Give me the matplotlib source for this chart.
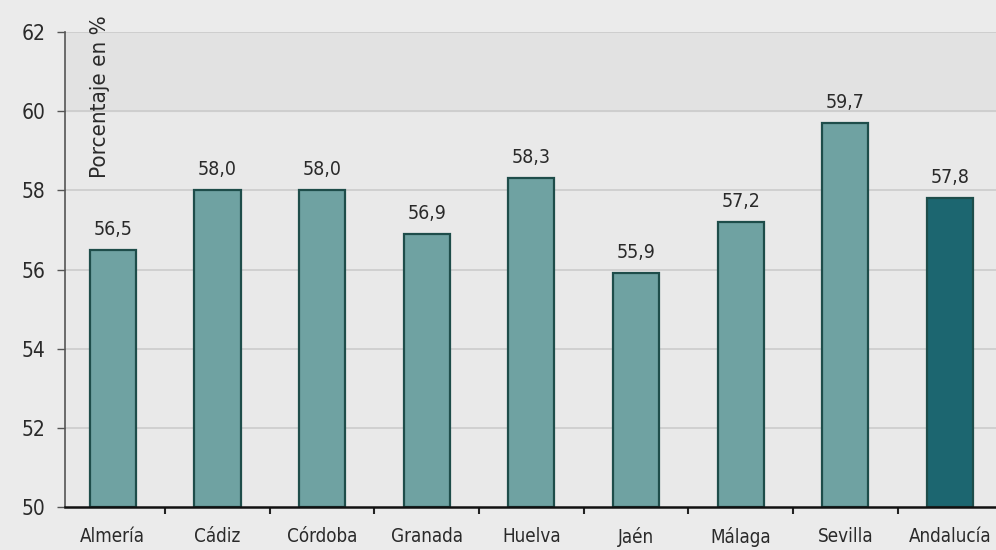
import numpy as np
import matplotlib.pyplot as plt

provincias = ["Almería", "Cádiz", "Córdoba", "Granada", "Huelva",
              "Jaén", "Málaga", "Sevilla", "Andalucía"]
porcentaje = [56.5, 58.0, 58.0, 56.9, 58.3, 55.9, 57.2, 59.7, 57.8]
etiquetas = ["56,5", "58,0", "58,0", "56,9", "58,3", "55,9", "57,2", "59,7", "57,8"]
yticks = [50, 52, 54, 56, 58, 60, 62]

plt.rcParams['font.family'] = ['DejaVu Sans']
plt.rcParams['font.stretch'] = 'condensed'

fig = plt.figure(figsize=(9.96, 5.5), dpi=100, facecolor="#ebebeb")
ax = fig.add_axes([0.065, 0.078, 0.935, 0.864])
ax.set_facecolor("#e9e9e9")

x = np.arange(len(provincias))
colors = ["#6fa2a2"] * (len(provincias) - 1) + ["#1c6670"]
ax.axhspan(60, 62, color="#e2e2e2", zorder=0)
for yv in yticks[1:]:
    ax.axhline(yv, color="#cbcbcb", lw=1.2, zorder=1)

ax.bar(x, np.array(porcentaje) - 50, bottom=50, width=0.44,
       color=colors, edgecolor="#1e4d4a", linewidth=1.6, zorder=2)

for xi, v, t in zip(x, porcentaje, etiquetas):
    ax.annotate(t, (xi, v), xytext=(0, 8), textcoords="offset points",
                ha="center", va="bottom", fontsize=14, color="#2a2a2a")

ax.set_xlim(-0.46, 8.44)
ax.set_ylim(50, 62)
ax.set_yticks(yticks)
ax.set_yticklabels([str(v) for v in yticks], fontsize=15, color="#2a2a2a")
ax.set_xticks(x)
ax.set_xticklabels(provincias, fontsize=13.5, color="#2a2a2a")
ax.tick_params(axis="x", length=0, pad=14)
ax.tick_params(axis="y", length=6, width=1, color="#555555", pad=8)
ax.set_xticks(x[:-1] + 0.5, minor=True)
ax.tick_params(axis="x", which="minor", length=5, width=1.5, color="#222222")

ax.spines["top"].set_visible(False)
ax.spines["right"].set_visible(False)
ax.spines["left"].set_color("#555555")
ax.spines["left"].set_linewidth(1.2)
ax.spines["bottom"].set_color("#111111")
ax.spines["bottom"].set_linewidth(1.8)

ax.text(0.038, 1.035, "Porcentaje en %", transform=ax.transAxes, rotation=90,
        ha="center", va="top", fontsize=16, color="#2a2a2a", clip_on=False)

fig.savefig("out.png", dpi=100, facecolor=fig.get_facecolor())
